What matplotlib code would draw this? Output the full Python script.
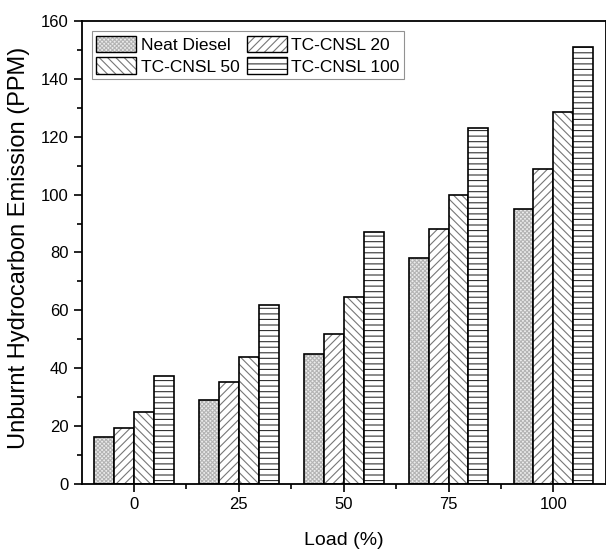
import numpy as np
import matplotlib
matplotlib.use("Agg")
import matplotlib.pyplot as plt
from matplotlib.patches import Patch
from matplotlib.legend_handler import HandlerTuple
from matplotlib.ticker import MultipleLocator

plt.rcParams["font.family"] = ["Liberation Sans", "DejaVu Sans"]
plt.rcParams["hatch.linewidth"] = 0.8

loads = ["0", "25", "50", "75", "100"]
series = ["Neat Diesel", "TC-CNSL 20", "TC-CNSL 50", "TC-CNSL 100"]
neat_diesel = [16.3, 29.1, 45, 78, 95]
tc_cnsl_20 = [19.2, 35.1, 52, 88, 109]
tc_cnsl_50 = [24.8, 44, 64.5, 100, 128.5]
tc_cnsl_100 = [37.3, 62, 87, 123, 151]

values = [neat_diesel, tc_cnsl_20, tc_cnsl_50, tc_cnsl_100]
hatches = ["xxxxxxxx", "////", "\\\\\\\\", "---"]
hatch_cols = ["#b4b4b4", "#777777", "#777777", "#333333"]
face_cols = ["#ececec", "white", "white", "white"]

fig = plt.figure(figsize=(6.06, 5.53), dpi=100)
ax = fig.add_axes([0.1347, 0.1248, 0.865, 0.8372])

x = np.arange(len(loads))
w = 0.19
for i, (vals, h, hc, fc) in enumerate(zip(values, hatches, hatch_cols, face_cols)):
    pos = x + (i - 1.5) * w
    ax.bar(pos, vals, w, color=fc, edgecolor=hc, hatch=h, linewidth=0)
    ax.bar(pos, vals, w, color="none", edgecolor="black", linewidth=1.2)

ax.set_xlim(-0.5, 4.5)
ax.set_ylim(0, 160)
ax.set_xticks(x)
ax.set_xticklabels(loads)
ax.set_xticks(x[:-1] + 0.5, minor=True)
ax.yaxis.set_major_locator(MultipleLocator(20))
ax.yaxis.set_minor_locator(MultipleLocator(10))
ax.tick_params(axis="both", which="major", labelsize=12, length=6, width=1.2)
ax.tick_params(axis="both", which="minor", length=3.5, width=1.2)
for s in ax.spines.values():
    s.set_linewidth(1.3)

ax.set_xlabel("Load (%)", fontsize=14, labelpad=14)
ax.set_ylabel("Unburnt Hydrocarbon Emission (PPM)", fontsize=17)
ax.yaxis.set_label_coords(-0.098, 0.51)

# legend fills columns first, so reorder to get the reference's rows
order = [0, 2, 1, 3]
handles = []
labels = []
for k in order:
    fill = Patch(facecolor=face_cols[k], edgecolor=hatch_cols[k], hatch=hatches[k], linewidth=0)
    edge = Patch(facecolor="none", edgecolor="black", linewidth=1.0)
    handles.append((fill, edge))
    labels.append(series[k])
leg = ax.legend(handles, labels, handler_map={tuple: HandlerTuple(ndivide=1, pad=0)},
                loc="upper left", ncol=2, fontsize=12.5,
                frameon=True, fancybox=False, edgecolor="#777777",
                handlelength=2.3, handleheight=1.1, handletextpad=0.25,
                columnspacing=0.45, labelspacing=0.25, borderpad=0.25,
                borderaxespad=0.6)
leg.get_frame().set_linewidth(0.8)

fig.savefig("out.png", dpi=100)
